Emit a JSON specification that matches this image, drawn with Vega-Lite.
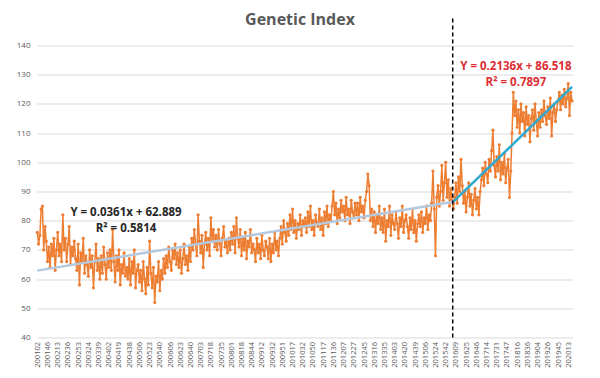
{
  "$schema": "https://vega.github.io/schema/vega-lite/v6.json",
  "width": 536,
  "height": 292,
  "autosize": {"type": "none"},
  "padding": {"left": 37, "top": 45.5, "right": 27, "bottom": 40.5},
  "background": "white",
  "config": {"font": "Open Sans", "view": {"stroke": null}},
  "title": {"text": "Genetic Index", "fontSize": 16, "fontWeight": "bold", "color": "#595959", "font": "Open Sans", "dx": -5, "offset": -12},
  "datasets": {
    "series": [
      {"i":0,"v":76},{"i":2,"v":72},{"i":4,"v":75},{"i":6,"v":84},{"i":8,"v":85},{"i":10,"v":70},{"i":12,"v":78},{"i":14,"v":73},{"i":16,"v":66},{"i":18,"v":71},
      {"i":20,"v":64},{"i":22,"v":72},{"i":24,"v":68},{"i":26,"v":74},{"i":28,"v":63},{"i":30,"v":70},{"i":32,"v":76},{"i":34,"v":68},{"i":36,"v":72},{"i":38,"v":66},
      {"i":40,"v":82},{"i":42,"v":70},{"i":44,"v":74},{"i":46,"v":66},{"i":48,"v":72},{"i":50,"v":78},{"i":52,"v":65},{"i":54,"v":71},{"i":56,"v":68},{"i":58,"v":73},
      {"i":60,"v":67},{"i":62,"v":63},{"i":64,"v":72},{"i":66,"v":58},{"i":68,"v":69},{"i":70,"v":66},{"i":72,"v":74},{"i":74,"v":62},{"i":76,"v":68},{"i":78,"v":65},
      {"i":80,"v":61},{"i":82,"v":70},{"i":84,"v":64},{"i":86,"v":68},{"i":88,"v":57},{"i":90,"v":66},{"i":92,"v":72},{"i":94,"v":63},{"i":96,"v":67},{"i":98,"v":60},
      {"i":100,"v":68},{"i":102,"v":62},{"i":104,"v":71},{"i":106,"v":65},{"i":108,"v":60},{"i":110,"v":69},{"i":112,"v":64},{"i":114,"v":70},{"i":116,"v":63},{"i":118,"v":77},
      {"i":120,"v":66},{"i":122,"v":59},{"i":124,"v":68},{"i":126,"v":63},{"i":128,"v":70},{"i":130,"v":58},{"i":132,"v":65},{"i":134,"v":62},{"i":136,"v":69},{"i":138,"v":61},
      {"i":140,"v":64},{"i":142,"v":60},{"i":144,"v":67},{"i":146,"v":58},{"i":148,"v":66},{"i":150,"v":62},{"i":152,"v":70},{"i":154,"v":57},{"i":156,"v":63},{"i":158,"v":65},
      {"i":160,"v":59},{"i":162,"v":63},{"i":164,"v":56},{"i":166,"v":66},{"i":168,"v":60},{"i":170,"v":55},{"i":172,"v":64},{"i":174,"v":58},{"i":176,"v":73},{"i":178,"v":62},
      {"i":180,"v":57},{"i":182,"v":64},{"i":184,"v":52},{"i":186,"v":61},{"i":188,"v":59},{"i":190,"v":66},{"i":192,"v":56},{"i":194,"v":63},{"i":196,"v":60},{"i":198,"v":67},
      {"i":200,"v":62},{"i":202,"v":68},{"i":204,"v":64},{"i":206,"v":71},{"i":208,"v":66},{"i":210,"v":63},{"i":212,"v":70},{"i":214,"v":67},{"i":216,"v":72},{"i":218,"v":65},
      {"i":220,"v":69},{"i":222,"v":64},{"i":224,"v":70},{"i":226,"v":62},{"i":228,"v":67},{"i":230,"v":72},{"i":232,"v":65},{"i":234,"v":68},{"i":236,"v":63},{"i":238,"v":71},
      {"i":240,"v":66},{"i":242,"v":74},{"i":244,"v":70},{"i":246,"v":77},{"i":248,"v":72},{"i":250,"v":68},{"i":252,"v":82},{"i":254,"v":73},{"i":256,"v":69},{"i":258,"v":75},
      {"i":260,"v":64},{"i":262,"v":72},{"i":264,"v":76},{"i":266,"v":70},{"i":268,"v":74},{"i":270,"v":68},{"i":272,"v":81},{"i":274,"v":73},{"i":276,"v":77},{"i":278,"v":71},
      {"i":280,"v":75},{"i":282,"v":70},{"i":284,"v":77},{"i":286,"v":72},{"i":288,"v":68},{"i":290,"v":74},{"i":292,"v":78},{"i":294,"v":71},{"i":296,"v":73},{"i":298,"v":69},
      {"i":300,"v":74},{"i":302,"v":70},{"i":304,"v":76},{"i":306,"v":72},{"i":308,"v":78},{"i":310,"v":69},{"i":312,"v":81},{"i":314,"v":74},{"i":316,"v":71},{"i":318,"v":77},
      {"i":320,"v":68},{"i":322,"v":74},{"i":324,"v":70},{"i":326,"v":76},{"i":328,"v":67},{"i":330,"v":73},{"i":332,"v":71},{"i":334,"v":77},{"i":336,"v":69},{"i":338,"v":72},
      {"i":340,"v":70},{"i":342,"v":66},{"i":344,"v":74},{"i":346,"v":69},{"i":348,"v":72},{"i":350,"v":67},{"i":352,"v":75},{"i":354,"v":70},{"i":356,"v":68},{"i":358,"v":73},
      {"i":360,"v":71},{"i":362,"v":67},{"i":364,"v":74},{"i":366,"v":66},{"i":368,"v":72},{"i":370,"v":69},{"i":372,"v":76},{"i":374,"v":70},{"i":376,"v":73},{"i":378,"v":68},
      {"i":380,"v":74},{"i":382,"v":78},{"i":384,"v":72},{"i":386,"v":80},{"i":388,"v":76},{"i":390,"v":73},{"i":392,"v":79},{"i":394,"v":75},{"i":396,"v":82},{"i":398,"v":77},
      {"i":400,"v":84},{"i":402,"v":76},{"i":404,"v":80},{"i":406,"v":74},{"i":408,"v":79},{"i":410,"v":77},{"i":412,"v":82},{"i":414,"v":75},{"i":416,"v":80},{"i":418,"v":78},
      {"i":420,"v":81},{"i":422,"v":76},{"i":424,"v":83},{"i":426,"v":78},{"i":428,"v":85},{"i":430,"v":77},{"i":432,"v":80},{"i":434,"v":75},{"i":436,"v":82},{"i":438,"v":79},
      {"i":440,"v":78},{"i":442,"v":84},{"i":444,"v":77},{"i":446,"v":81},{"i":448,"v":75},{"i":450,"v":83},{"i":452,"v":79},{"i":454,"v":85},{"i":456,"v":78},{"i":458,"v":82},
      {"i":460,"v":80},{"i":462,"v":85},{"i":464,"v":90},{"i":466,"v":82},{"i":468,"v":86},{"i":470,"v":79},{"i":472,"v":84},{"i":474,"v":81},{"i":476,"v":87},{"i":478,"v":83},
      {"i":480,"v":85},{"i":482,"v":80},{"i":484,"v":88},{"i":486,"v":82},{"i":488,"v":84},{"i":490,"v":79},{"i":492,"v":87},{"i":494,"v":83},{"i":496,"v":81},{"i":498,"v":86},
      {"i":500,"v":82},{"i":502,"v":86},{"i":504,"v":80},{"i":506,"v":88},{"i":508,"v":83},{"i":510,"v":85},{"i":512,"v":81},{"i":514,"v":87},{"i":516,"v":90},{"i":518,"v":96},
      {"i":520,"v":92},{"i":522,"v":80},{"i":524,"v":84},{"i":526,"v":78},{"i":528,"v":83},{"i":530,"v":76},{"i":532,"v":82},{"i":534,"v":79},{"i":536,"v":85},{"i":538,"v":77},
      {"i":540,"v":81},{"i":542,"v":76},{"i":544,"v":84},{"i":546,"v":73},{"i":548,"v":80},{"i":550,"v":78},{"i":552,"v":85},{"i":554,"v":75},{"i":556,"v":82},{"i":558,"v":79},
      {"i":560,"v":77},{"i":562,"v":83},{"i":564,"v":79},{"i":566,"v":74},{"i":568,"v":81},{"i":570,"v":78},{"i":572,"v":85},{"i":574,"v":76},{"i":576,"v":80},{"i":578,"v":82},
      {"i":580,"v":78},{"i":582,"v":74},{"i":584,"v":81},{"i":586,"v":77},{"i":588,"v":84},{"i":590,"v":76},{"i":592,"v":80},{"i":594,"v":73},{"i":596,"v":79},{"i":598,"v":82},
      {"i":600,"v":78},{"i":602,"v":83},{"i":604,"v":76},{"i":606,"v":81},{"i":608,"v":79},{"i":610,"v":85},{"i":612,"v":77},{"i":614,"v":82},{"i":616,"v":80},{"i":618,"v":86},
      {"i":620,"v":97},{"i":622,"v":84},{"i":624,"v":68},{"i":626,"v":88},{"i":628,"v":92},{"i":630,"v":85},{"i":632,"v":90},{"i":634,"v":99},{"i":636,"v":87},{"i":638,"v":93},
      {"i":640,"v":100},{"i":642,"v":88},{"i":644,"v":94},{"i":646,"v":85},{"i":648,"v":91},{"i":650,"v":87},{"i":652,"v":84},
      {"i":654,"v":88},{"i":656,"v":93},{"i":658,"v":86},{"i":660,"v":95},{"i":662,"v":90},{"i":664,"v":101},
      {"i":666,"v":92},{"i":668,"v":86},{"i":670,"v":90},{"i":672,"v":83},{"i":674,"v":88},{"i":676,"v":93},{"i":678,"v":85},{"i":680,"v":89},{"i":682,"v":82},{"i":684,"v":87},{"i":686,"v":91},{"i":688,"v":84},{"i":690,"v":88},{"i":692,"v":82},{"i":694,"v":90},
      {"i":696,"v":94},{"i":698,"v":98},{"i":700,"v":92},{"i":702,"v":100},{"i":704,"v":96},{"i":706,"v":93},{"i":708,"v":101},{"i":710,"v":97},{"i":712,"v":104},{"i":714,"v":111},
      {"i":716,"v":99},{"i":718,"v":95},{"i":720,"v":102},{"i":722,"v":97},{"i":724,"v":106},{"i":726,"v":94},{"i":728,"v":100},{"i":730,"v":96},{"i":732,"v":103},{"i":734,"v":93},{"i":736,"v":98},{"i":738,"v":101},{"i":740,"v":88},{"i":742,"v":97},
      {"i":744,"v":110},{"i":746,"v":124},
      {"i":748,"v":116},{"i":750,"v":121},{"i":752,"v":112},{"i":754,"v":118},{"i":756,"v":110},{"i":758,"v":120},{"i":760,"v":114},{"i":762,"v":117},{"i":764,"v":109},{"i":766,"v":119},{"i":768,"v":113},{"i":770,"v":116},{"i":772,"v":107},{"i":774,"v":115},{"i":776,"v":118},{"i":778,"v":111},{"i":780,"v":120},{"i":782,"v":114},{"i":784,"v":109},{"i":786,"v":117},{"i":788,"v":112},
      {"i":790,"v":118},{"i":792,"v":114},{"i":794,"v":121},{"i":796,"v":116},{"i":798,"v":113},{"i":800,"v":119},{"i":802,"v":115},{"i":804,"v":122},{"i":806,"v":109},{"i":808,"v":117},{"i":810,"v":120},{"i":812,"v":114},{"i":814,"v":118},
      {"i":816,"v":121},{"i":818,"v":124},{"i":820,"v":118},{"i":822,"v":123},{"i":824,"v":120},{"i":826,"v":125},{"i":828,"v":119},{"i":830,"v":122},{"i":832,"v":127},{"i":834,"v":116},{"i":836,"v":124},{"i":838,"v":121}
    ],
    "trend": [
      {"i":0,"v":62.9,"s":"a"},{"i":652,"v":86.5,"s":"a"},
      {"i":652,"v":86.5,"s":"b"},{"i":838,"v":125.8,"s":"b"}
    ],
    "divider": [{"i":651,"v":40,"v2":150}],
    "notes": [
      {"i":139,"v":82.7,"t":"Y = 0.0361x + 62.889","g":"a"},
      {"i":139,"v":77.3,"t":"R² = 0.5814","g":"a"},
      {"i":750,"v":132.7,"t":"Y = 0.2136x + 86.518","g":"b"},
      {"i":750,"v":127.3,"t":"R² = 0.7897","g":"b"}
    ]
  },
  "encoding": {
    "x": {
      "field": "i", "type": "quantitative",
      "scale": {"domain": [-0.5, 839.5], "nice": false, "zero": false},
      "axis": {
        "title": null, "grid": false, "ticks": false, "domain": false,
        "values": [0,16,32,48,64,80,96,112,128,144,160,176,192,208,224,240,256,272,288,304,320,336,352,368,384,400,416,432,448,464,480,496,512,528,544,560,576,592,608,624,640,656,672,688,704,720,736,752,768,784,800,816,832],
        "labelExpr": "['200102','200146','200213','200236','200253','200324','200339','200402','200419','200438','200506','200523','200540','200606','200623','200640','200703','200718','200735','200801','200818','200844','200912','200932','200951','201017','201032','201050','201117','201136','201207','201227','201245','201316','201335','201403','201420','201439','201506','201524','201542','201609','201625','201646','201714','201731','201747','201816','201836','201904','201926','201945','202013'][round(datum.value/16)]",
        "labelAngle": 270, "labelFontSize": 7.5, "labelColor": "#595959", "labelPadding": 4,
        "labelOverlap": false, "labelFlush": false, "labelBound": false
      }
    },
    "y": {
      "field": "v", "type": "quantitative",
      "scale": {"domain": [40, 140], "nice": false, "zero": false},
      "axis": {
        "title": null, "grid": true, "gridColor": "#d9d9d9", "ticks": false, "domain": false,
        "values": [40,50,60,70,80,90,100,110,120,130,140],
        "labelFontSize": 8, "labelColor": "#595959", "labelPadding": 7
      }
    }
  },
  "layer": [
    {
      "data": {"name": "series"},
      "mark": {"type": "line", "color": "#ed7d31", "strokeWidth": 1.5, "point": {"filled": true, "size": 10, "color": "#ed7d31"}}
    },
    {
      "data": {"name": "trend"},
      "mark": {"type": "line", "strokeWidth": 2.5},
      "encoding": {
        "color": {"field": "s", "type": "nominal", "scale": {"domain": ["a", "b"], "range": ["#b4c8de", "#2ea9cf"]}, "legend": null}
      }
    },
    {
      "data": {"name": "divider"},
      "mark": {"type": "rule", "color": "#000000", "strokeWidth": 1.5, "strokeDash": [4, 3]},
      "encoding": {"y2": {"field": "v2"}}
    },
    {
      "data": {"name": "notes"},
      "transform": [{"filter": "datum.g == 'a'"}],
      "mark": {"type": "text", "fontSize": 11.5, "fontWeight": "bold", "color": "#262626", "align": "center", "baseline": "middle"},
      "encoding": {"text": {"field": "t"}}
    },
    {
      "data": {"name": "notes"},
      "transform": [{"filter": "datum.g == 'b'"}],
      "mark": {"type": "text", "fontSize": 11.5, "fontWeight": "bold", "color": "#dc2e34", "align": "center", "baseline": "middle"},
      "encoding": {"text": {"field": "t"}}
    }
  ]
}
